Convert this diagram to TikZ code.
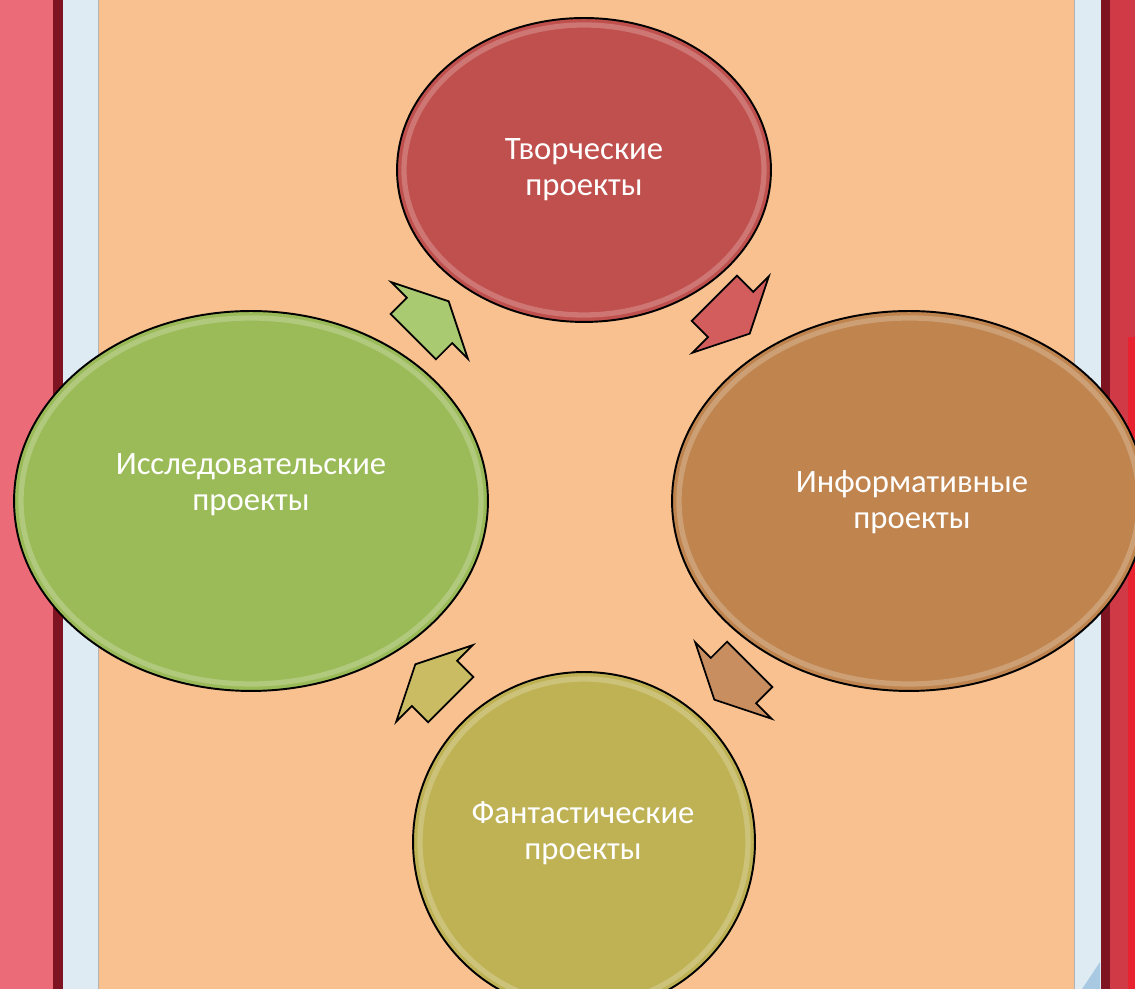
\documentclass[tikz,border=0pt]{standalone}
\usepackage{fontspec}
\setmainfont{Carlito}
\usetikzlibrary{calc,shapes.geometric}
\definecolor{pinkside}{HTML}{EC6B79}
\definecolor{darkred}{HTML}{7E1421}
\definecolor{paleblue}{HTML}{DFEBF3}
\definecolor{curlblue}{HTML}{A9C9E3}
\definecolor{peach}{HTML}{F8C18F}
\definecolor{redside}{HTML}{D03A47}
\definecolor{brightred}{HTML}{E8222E}
\definecolor{cgreen}{HTML}{9BBB59}
\definecolor{cred}{HTML}{C0504D}
\definecolor{cbrown}{HTML}{C0844F}
\definecolor{colive}{HTML}{BFB255}
\definecolor{agreen}{HTML}{AACA72}
\definecolor{ared}{HTML}{D35D5D}
\definecolor{abrown}{HTML}{C98E60}
\definecolor{aolive}{HTML}{C9BC62}
\tikzset{
  bubble/.style={ellipse, draw=black, line width=1.1pt, inner sep=0pt},
  rim/.style={white, opacity=0.22, line width=3pt},
  caption/.style={text=white, align=center, font=\fontsize{18.6}{20.5}\selectfont},
  blockarrow/.style={draw=black, line width=1pt, line join=miter},
}

\begin{document}
\begin{tikzpicture}[x=0.02cm, y=0.02cm]

\useasboundingbox (0,0) rectangle (1135,989);
\clip (0,0) rectangle (1135,989);

% background
\fill[pinkside] (0,0) rectangle (53,989);
\fill[darkred] (53,0) rectangle (63,989);
\fill[paleblue] (63,0) rectangle (98,989);
\fill[peach] (98,0) rectangle (1075,989);
\draw[gray!60, line width=0.6pt] (98.5,0) -- (98.5,989);
\draw[gray!60, line width=0.6pt] (1074.5,0) -- (1074.5,989);
\fill[paleblue] (1075,0) rectangle (1101,989);
\fill[darkred] (1101,0) rectangle (1110,989);
\fill[redside] (1110,0) rectangle (1135,989);
\fill[brightred] (1128,0) rectangle (1135,652);
\fill[curlblue] (1100,27) -- (1100,0) -- (1082,0) -- cycle;

\coordinate (O) at (582,489);

% circles

\node[bubble, fill=cred, minimum width=7.48cm, minimum height=6.08cm] (tvor) at (584,819) {};
\draw[rim] (tvor.center) ellipse [x radius=180, y radius=145];
\node[caption] (tvor-t) at ($(tvor)+(0,0)$) {Творческие\\проекты};

\node[bubble, fill=cbrown, minimum width=9.48cm, minimum height=7.6cm] (inform) at (909,488) {};
\draw[rim] (inform.center) ellipse [x radius=230, y radius=183];
\node[caption] (inform-t) at ($(inform)+(3,-1)$) {Информативные\\проекты};

\node[bubble, fill=colive, minimum width=6.84cm, minimum height=6.8cm] (fant) at (584,147) {};
\draw[rim] (fant.center) ellipse [x radius=164, y radius=163];
\node[caption] (fant-t) at ($(fant)+(-1,9)$) {Фантастические\\проекты};

\node[bubble, fill=cgreen, minimum width=9.48cm, minimum height=7.6cm] (issl) at (251,488) {};
\draw[rim] (issl.center) ellipse [x radius=230, y radius=183];
\node[caption] (issl-t) at ($(issl)+(0,16)$) {Исследовательские\\проекты};

% arrows

\draw[blockarrow, fill=ared, shift={($(O)+(150,184)$)}, rotate=-45]
  (-25,-32) -- (-2,-32) -- (-2,-54) -- (25,0) -- (-2,54) -- (-2,32) -- (-25,32) -- cycle;
\draw[blockarrow, fill=abrown, shift={($(O)+(150,-182)$)}, rotate=225]
  (-25,-32) -- (-2,-32) -- (-2,-54) -- (25,0) -- (-2,54) -- (-2,32) -- (-25,32) -- cycle;
\draw[blockarrow, fill=aolive, shift={($(O)+(-149,-182)$)}, rotate=135]
  (-25,-32) -- (-2,-32) -- (-2,-54) -- (25,0) -- (-2,54) -- (-2,32) -- (-25,32) -- cycle;
\draw[blockarrow, fill=agreen, shift={($(O)+(-151,181)$)}, rotate=45]
  (-25,-32) -- (-2,-32) -- (-2,-54) -- (25,0) -- (-2,54) -- (-2,32) -- (-25,32) -- cycle;

\end{tikzpicture}
\end{document}
